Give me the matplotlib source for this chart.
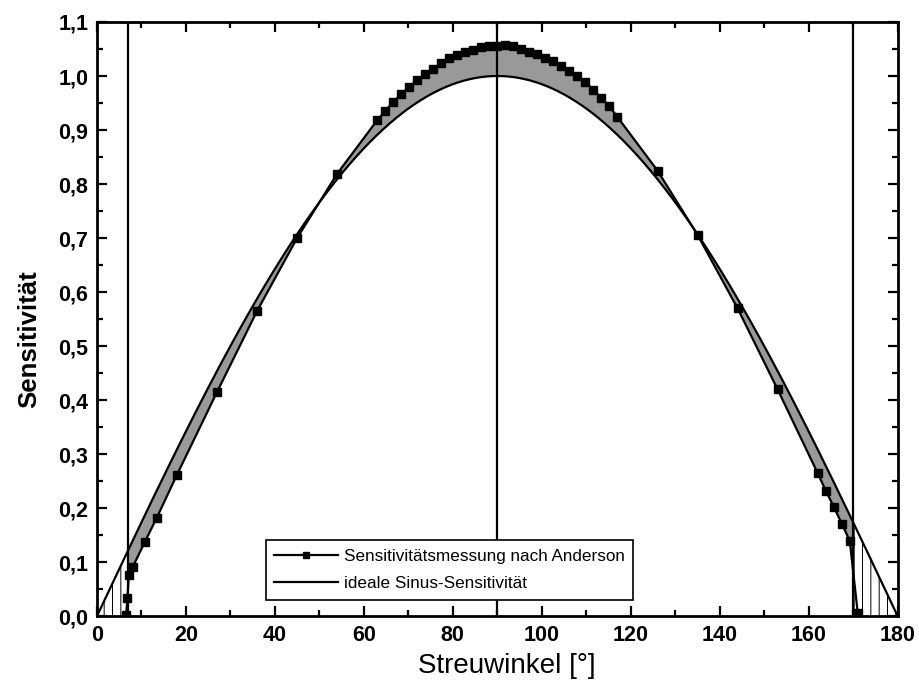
import numpy as np
import matplotlib
matplotlib.use("Agg")
import matplotlib.pyplot as plt
from matplotlib.ticker import MultipleLocator, FuncFormatter

# ---------------- data ----------------
meas_angle = [6.6, 6.9, 7.2, 8.1, 10.8, 13.5, 18.0, 27.0, 36.0, 45.0, 54.0,
              63.0, 64.8, 66.6, 68.4, 70.2, 72.0, 73.8, 75.6, 77.4, 79.2,
              81.0, 82.8, 84.6, 86.4, 88.2, 90.0, 91.8, 93.6, 95.4, 97.2,
              99.0, 100.8, 102.6, 104.4, 106.2, 108.0, 109.8, 111.6, 113.4,
              115.2, 117.0, 126.0, 135.0, 144.0, 153.0, 162.0, 163.8, 165.6,
              167.4, 169.2, 171.0]
meas_sens = [0.003, 0.035, 0.077, 0.092, 0.138, 0.183, 0.262, 0.415, 0.565,
             0.700, 0.819,
             0.918, 0.935, 0.952, 0.966, 0.980, 0.992, 1.004, 1.013, 1.024,
             1.033, 1.039, 1.044, 1.049, 1.053, 1.055, 1.056, 1.057, 1.055,
             1.050, 1.045, 1.040, 1.034, 1.027, 1.019, 1.010, 1.000, 0.989,
             0.974, 0.959, 0.944, 0.924, 0.825, 0.706, 0.570, 0.420, 0.265,
             0.233, 0.203, 0.172, 0.140, 0.006]

ideal_angle = np.linspace(0, 180, 721)          # ideal sine sensitivity
ideal_sens = np.sin(np.radians(ideal_angle))

ref_lines = [7, 90, 170]                        # vertical marker lines
fill_range = (7, 170)                           # grey deviation area
hatch_ranges = [(0, 7), (170, 180)]             # hatched areas outside

x_ticks = [0, 20, 40, 60, 80, 100, 120, 140, 160, 180]
y_ticks = [0.0, 0.1, 0.2, 0.3, 0.4, 0.5, 0.6, 0.7, 0.8, 0.9, 1.0, 1.1]

labels = ["Sensitivitätsmessung nach Anderson", "ideale Sinus-Sensitivität"]

# ---------------- plot ----------------
plt.rcParams['font.family'] = ['Liberation Sans', 'DejaVu Sans']
plt.rcParams['hatch.linewidth'] = 0.7

fig = plt.figure(figsize=(9.2, 6.97), dpi=100)
ax = fig.add_axes([0.1052, 0.1155, 0.8707, 0.853])

# grey area between measurement and ideal curve
xf = np.linspace(fill_range[0], fill_range[1], 1200)
mf = np.interp(xf, meas_angle, meas_sens)
sf = np.interp(xf, ideal_angle, ideal_sens)
ax.fill_between(xf, mf, sf, facecolor='#999999', edgecolor='none', zorder=1)

# hatched areas below ideal curve
for a, b in hatch_ranges:
    xh = np.linspace(a, b, 200)
    ax.fill_between(xh, 0, np.interp(xh, ideal_angle, ideal_sens),
                    facecolor='none', edgecolor='black', hatch='||',
                    linewidth=0, zorder=1)

for xv in ref_lines:
    ax.axvline(xv, color='black', lw=1.6, zorder=2)

ax.plot(ideal_angle, ideal_sens, color='black', lw=1.6, zorder=3,
        label=labels[1])
ax.plot(meas_angle, meas_sens, color='black', lw=1.6, marker='s',
        markersize=6, zorder=4, label=labels[0])

ax.set_xlim(0, 180)
ax.set_ylim(0, 1.1)
ax.set_xticks(x_ticks)
ax.set_yticks(y_ticks)
ax.xaxis.set_minor_locator(MultipleLocator(10))
ax.yaxis.set_minor_locator(MultipleLocator(0.05))
ax.yaxis.set_major_formatter(FuncFormatter(lambda v, p: f"{v:.1f}".replace('.', ',')))

ax.tick_params(which='both', direction='in', top=True, right=True,
               width=1.6)
ax.tick_params(which='major', length=7, labelsize=15.5, pad=6)
ax.tick_params(which='minor', length=4)
for lab in ax.get_xticklabels() + ax.get_yticklabels():
    lab.set_fontweight('bold')
for s in ax.spines.values():
    s.set_linewidth(2.0)

ax.set_xlabel("Streuwinkel [°]", fontsize=20)
ax.xaxis.set_label_coords(0.512, -0.062)
ax.set_ylabel("Sensitivität", fontsize=18.5, fontweight='bold')
ax.yaxis.set_label_coords(-0.069, 0.467)

h, l = ax.get_legend_handles_labels()
leg = ax.legend(h[::-1], l[::-1], loc='lower left',
                bbox_to_anchor=(0.211, 0.028), fontsize=12.3,
                handlelength=3.7, handletextpad=0.35, borderpad=0.5,
                labelspacing=0.72, fancybox=False, framealpha=1,
                edgecolor='black', borderaxespad=0, markerscale=0.8)
leg.get_frame().set_linewidth(1.2)
leg.set_zorder(10)

fig.savefig("out.png", dpi=100)
